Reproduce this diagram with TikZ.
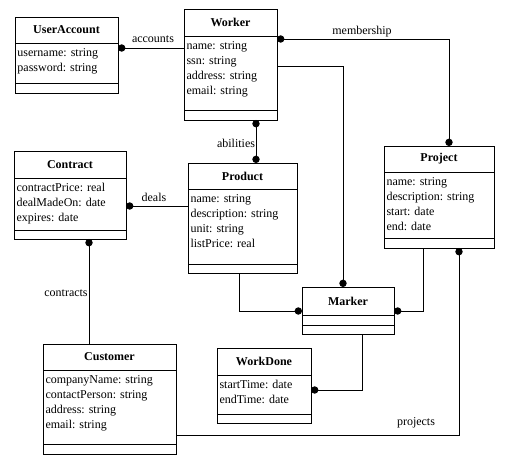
\documentclass[tikz,border=0pt]{standalone}
\usepackage{fontspec}
\setmainfont{Liberation Serif}
\usetikzlibrary{arrows.meta,calc}

\tikzset{every picture/.style={line width=0.75pt}}
\tikzset{
  classbox/.style={draw, inner sep=0pt, outer sep=0pt, anchor=north west},
  classname/.style={font=\fontsize{9}{11.2}\selectfont\bfseries, inner sep=0.75pt},
  attrs/.style={anchor=north west, inner sep=0.75pt, align=left},
  dotstart/.style={{Circle[length=5.5pt]}-},
  dotend/.style={-{Circle[length=5.5pt]}},
  dotboth/.style={{Circle[length=5.5pt]}-{Circle[length=5.5pt]}}
}

\begin{document}
\begin{tikzpicture}[x=0.75pt,y=0.75pt,yscale=-1,xscale=1,font=\fontsize{9}{11.2}\selectfont]
\useasboundingbox (0,0) rectangle (508,465);

%Shape: Rectangle UserAccount
\node[classbox, minimum width=77.25pt, minimum height=57pt] (ua) at (15,17) {};
\draw (15,43) -- (118,43) ;
\draw (15,83) -- (118,83) ;
% Text Node
\node[classname] (uatitle) at (66.5,30) {UserAccount};
% Text Node
\node[attrs] (uaattrs) at (16,47) {username: string\\password: string};

%Shape: Rectangle Worker
\node[classbox, minimum width=69.75pt, minimum height=83.25pt] (worker) at (184,9) {};
\draw (184,36) -- (277,36) ;
\draw (184,110) -- (277,110) ;
% Text Node
\node[classname] (workertitle) at (230.5,22.5) {Worker};
% Text Node
\node[attrs] (workerattrs) at (185,40) {name: string\\ssn: string\\address: string\\email: string};

%Shape: Rectangle Contract
\node[classbox, minimum width=84pt, minimum height=66pt] (contract) at (14,151) {};
\draw (14,178) -- (126,178) ;
\draw (14,230) -- (126,230) ;
% Text Node
\node[classname] (contracttitle) at (70,164.5) {Contract};
% Text Node
\node[attrs] (contractattrs) at (15,182) {contractPrice: real\\dealMadeOn: date\\expires: date};

%Shape: Rectangle Product
\node[classbox, minimum width=81.75pt, minimum height=82.5pt] (product) at (188,163) {};
\draw (188,189) -- (297,189) ;
\draw (188,264) -- (297,264) ;
% Text Node
\node[classname] (producttitle) at (242.5,176) {Product};
% Text Node
\node[attrs] (productattrs) at (189,193) {name: string\\description: string\\unit: string\\listPrice: real};

%Shape: Rectangle Project
\node[classbox, minimum width=82.5pt, minimum height=76.5pt] (project) at (384,146) {};
\draw (384,172) -- (494,172) ;
\draw (384,238) -- (494,238) ;
% Text Node
\node[classname] (projecttitle) at (439,159) {Project};
% Text Node
\node[attrs] (projectattrs) at (385,176) {name: string\\description: string\\start: date\\end: date};

%Shape: Rectangle Marker
\node[classbox, minimum width=69pt, minimum height=35.25pt] (marker) at (302,287) {};
\draw (302,315) -- (394,315) ;
\draw (302,325) -- (394,325) ;
% Text Node
\node[classname] (markertitle) at (348,301) {Marker};

%Shape: Rectangle WorkDone
\node[classbox, minimum width=70.5pt, minimum height=56.25pt] (workdone) at (217,348) {};
\draw (217,375) -- (311,375) ;
\draw (217,414) -- (311,414) ;
% Text Node
\node[classname] (workdonetitle) at (264,361.5) {WorkDone};
% Text Node
\node[attrs] (workdoneattrs) at (218,379) {startTime: date\\endTime: date};

%Shape: Rectangle Customer
\node[classbox, minimum width=99.75pt, minimum height=82.5pt] (customer) at (43,344) {};
\draw (43,370) -- (176,370) ;
\draw (43,444) -- (176,444) ;
% Text Node
\node[classname] (customertitle) at (109.5,357) {Customer};
% Text Node
\node[attrs] (customerattrs) at (44,374) {companyName: string\\contactPerson: string\\address: string\\email: string};

%Straight Lines
\draw[dotstart] ($(ua.north east)+(0,31)$) -- ($(worker.north west)+(0,39)$) ;
\draw[dotboth] ($(worker.north east)+(0,30)$) -| ($(project.north)+(10,0)$) ;
\draw[dotend] ($(worker.north east)+(0,57)$) -| ($(marker.north)+(-5,0)$) ;
\draw[dotboth] ($(worker.south)+(25.5,0)$) coordinate (ab) -- (ab |- product.north) ;
\draw[dotstart] ($(contract.north east)+(0,55)$) -- ($(product.north west)+(0,43)$) ;
\draw[dotstart] ($(contract.south)+(19,0)$) coordinate (ct) -- (ct |- customer.north) ;
\draw[dotend] ($(customer.north east)+(0,91)$) -| ($(project.south)+(20,0)$) ;
\draw[dotend] ($(product.south)+(-3.5,0)$) |- ($(marker.north west)+(0,24)$) ;
\draw[dotend] ($(project.south)+(-16,0)$) |- ($(marker.north east)+(0,24)$) ;
\draw[dotend] ($(marker.south)+(14,0)$) |- ($(workdone.north east)+(0,42)$) ;

% Text Node
\node (lblaccounts) at (153,39) {accounts};
% Text Node
\node (lblmembership) at (362,32) {membership};
% Text Node
\node (lblabilities) at (236,143) {abilities};
% Text Node
\node (lbldeals) at (154,197) {deals};
% Text Node
\node (lblcontracts) at (66,293) {contracts};
% Text Node
\node (lblprojects) at (416,423) {projects};
\end{tikzpicture}
\end{document}
